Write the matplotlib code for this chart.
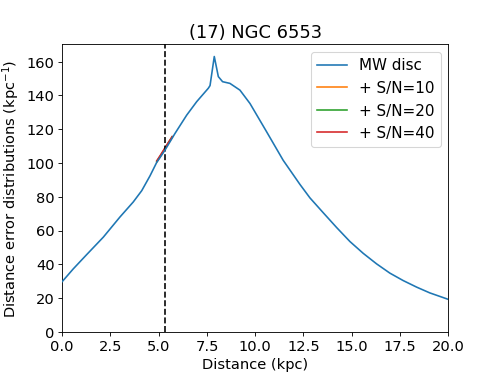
import matplotlib
matplotlib.use("Agg")
import matplotlib.pyplot as plt

# MW disc distance error distribution
disc_x = [0.0, 0.57, 1.27, 2.13, 2.99, 3.68, 4.12, 4.55, 4.89, 5.32, 5.84, 6.45,
          6.97, 7.57, 7.66, 7.88, 8.09, 8.31, 8.69, 9.21, 9.73, 10.59, 11.45,
          12.32, 12.84, 13.53, 14.22, 14.91, 15.6, 16.29, 16.98, 17.67, 18.37,
          19.05, 20.0]
disc_y = [29.8, 37.3, 45.8, 56.1, 68.0, 76.9, 83.6, 92.4, 100.2, 107.5, 117.4, 128.3,
          136.3, 144.2, 145.8, 163.0, 151.1, 148.1, 147.1, 143.1, 135.2, 118.5, 101.6,
          87.3, 79.3, 70.5, 61.8, 53.5, 46.5, 40.3, 34.8, 30.4, 26.5,
          23.1, 19.3]

# Cluster-based constraints (short segments around the cluster distance)
sn_x = [4.9, 5.1, 5.3, 5.5, 5.7]
sn10_y = [100.6, 104.1, 107.8, 111.6, 115.2]
sn20_y = [100.9, 104.4, 108.1, 111.9, 115.5]
sn40_y = [101.3, 104.8, 108.5, 112.1, 115.6]

cluster_distance = 5.3
title = "(17) NGC 6553"

plt.rcParams['font.size'] = 13.5
fig, ax = plt.subplots(figsize=(6.4, 4.8), dpi=77.8)
ax.plot(disc_x, disc_y, color="C0", label="MW disc", zorder=3)
ax.plot(sn_x, sn10_y, color="C1", label="+ S/N=10", zorder=2)
ax.plot(sn_x, sn20_y, color="C2", label="+ S/N=20", zorder=2)
ax.plot(sn_x, sn40_y, color="C3", label="+ S/N=40", zorder=2)
ax.axvline(cluster_distance, color="k", ls="--")
ax.set_xlim(0, 20)
ax.set_ylim(bottom=0)
ax.set_xlabel("Distance (kpc)")
ax.set_ylabel("Distance error distributions (kpc$^{-1}$)")
ax.set_title(title, fontsize=16.5)
ax.legend(loc="upper right", fontsize=14)
fig.savefig("out.png", dpi=77.8)
